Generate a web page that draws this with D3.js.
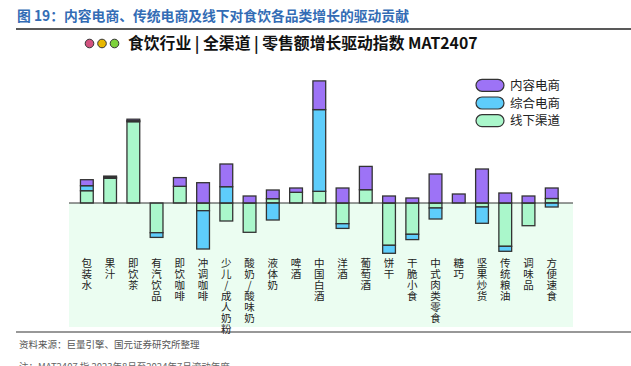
<!DOCTYPE html>
<html>
<head>
<meta charset="utf-8">
<script src="https://cdn.jsdelivr.net/npm/d3@7"></script>
<style>
  body { margin: 0; background: #fff; }
  svg { display: block; font-family: "Noto Sans CJK SC", sans-serif; }
</style>
</head>
<body>
<div id="chart"></div>
<script>
const w = 631
const h = 366
const purple = '#9d73f6'
const blue = '#5ecdfb'
const green = '#aaf7cb'

const categories = ['包装水', '果汁', '即饮茶', '有汽饮品', '即饮咖啡', '冲调咖啡', '少儿/成人奶粉', '酸奶/酸味奶', '液体奶', '啤酒', '中国白酒',
    '洋酒', '葡萄酒', '饼干', '干脆小食', '中式肉类零食', '糖巧', '坚果炒货', '传统粮油', '调味品', '方便速食']
const seriesNames = ['线下渠道', '综合电商', '内容电商']
const offline = [12.3, 24.7, 81.3, -29.7, 16.7, -7.7, -18, -29.3, 4.3, 10.7, 11.7, -20.7, 13.3, -42.3, -31.3, -5, 0, -4, -43.3, -22.7, 4.5]
const ecom = [5, 1, 1, -4.7, 0, -38.3, 16.3, 0, -17, 0, 81.7, -4.7, 0, -8, -5.3, -11, 0, -16.3, -5, 0, -4]
const content = [6, 1.2, 1.5, 0, 8.7, 20.3, 22.7, 7, 8.7, 4.3, 28.7, 15, 23.3, 7, 5, 29, 9, 34, 10, 7, 10.5]
const legendNames = ['内容电商', '综合电商', '线下渠道']

const rows = categories.map((c, i) => ({cat: c, '线下渠道': offline[i], '综合电商': ecom[i], '内容电商': content[i]}))
const colorOf = {'内容电商': purple, '综合电商': blue, '线下渠道': green}

const svg = d3.select('#chart')
    .append('svg')
    .attr('width', w)
    .attr('height', h)

// title
svg.append('text')
    .attr('x', 17)
    .attr('y', 21)
    .attr('fill', '#336cb5')
    .attr('font-size', 13.8)
    .attr('font-weight', 'bold')
    .text('图 19：内容电商、传统电商及线下对食饮各品类增长的驱动贡献')

svg.append('line')
    .attr('x1', 16).attr('x2', w)
    .attr('y1', 29).attr('y2', 29)
    .attr('stroke', '#222')
    .attr('stroke-width', 1.5)

// subtitle dots + text
svg.selectAll('circle.dot')
    .data(['#d2527f', '#e8b800', '#7dd23c'])
    .enter()
    .append('circle')
    .attr('class', 'dot')
    .attr('cx', (d, i) => 89.5 + i * 12.5)
    .attr('cy', 43.5)
    .attr('r', 4.3)
    .attr('fill', d => d)
    .attr('stroke', '#333')
    .attr('stroke-width', 1)

svg.append('text')
    .attr('x', 128)
    .attr('y', 49)
    .attr('font-size', 15.8)
    .attr('font-weight', 'bold')
    .attr('fill', '#111')
    .text('食饮行业 | 全渠道 | 零售额增长驱动指数 MAT2407')

const xScale = d3.scaleBand()
    .domain(categories)
    .range([70, 568.6])
    .padding(0.45)

const yScale = d3.scaleLinear()
    .domain([-50, 125])
    .range([253, 78])

// light green background below zero
svg.append('rect')
    .attr('x', 69)
    .attr('y', yScale(0))
    .attr('width', 504)
    .attr('height', 327 - yScale(0))
    .attr('fill', '#ebfdf1')

const stack = d3.stack()
    .keys(seriesNames)
    .offset(d3.stackOffsetDiverging)

const layers = stack(rows)

svg.append('g')
    .selectAll('g')
    .data(layers)
    .enter()
    .append('g')
    .attr('fill', d => colorOf[d.key])
    .selectAll('rect')
    .data(d => d.filter(s => s[1] !== s[0]))
    .enter()
    .append('rect')
    .attr('x', d => xScale(d.data.cat))
    .attr('y', d => yScale(Math.max(d[0], d[1])))
    .attr('width', xScale.bandwidth())
    .attr('height', d => Math.abs(yScale(d[0]) - yScale(d[1])))
    .attr('stroke', '#333')
    .attr('stroke-width', 1.3)

// zero line
svg.append('line')
    .attr('x1', 69).attr('x2', 573)
    .attr('y1', yScale(0)).attr('y2', yScale(0))
    .attr('stroke', '#333')
    .attr('stroke-width', 1)

// vertical category labels, one character per line
const labels = svg.append('g')
    .selectAll('text')
    .data(categories)
    .enter()
    .append('text')
    .attr('font-size', 10.5)
    .attr('fill', '#222')
    .attr('text-anchor', 'middle')

labels.selectAll('tspan')
    .data(d => Array.from(d).map(ch => ({ch, cat: d})))
    .enter()
    .append('tspan')
    .attr('x', d => xScale(d.cat) + xScale.bandwidth() / 2)
    .attr('y', (d, i) => 267 + i * 11)
    .text(d => d.ch)

// legend
const legend = svg.append('g')
    .selectAll('g')
    .data(legendNames)
    .enter()
    .append('g')
    .attr('transform', (d, i) => `translate(476, ${85.3 + i * 17.7})`)

legend.append('rect')
    .attr('x', 0)
    .attr('y', -6)
    .attr('width', 28)
    .attr('height', 12)
    .attr('rx', 6)
    .attr('fill', d => colorOf[d])
    .attr('stroke', '#333')
    .attr('stroke-width', 1.2)

legend.append('text')
    .attr('x', 34)
    .attr('y', 4.5)
    .attr('font-size', 12.5)
    .attr('fill', '#222')
    .text(d => d)

// footer
svg.append('line')
    .attr('x1', 16).attr('x2', w)
    .attr('y1', 332).attr('y2', 332)
    .attr('stroke', '#333')
    .attr('stroke-width', 1.2)

svg.append('text')
    .attr('x', 19)
    .attr('y', 348)
    .attr('font-size', 9.5)
    .attr('fill', '#555')
    .text('资料来源：巨量引擎、国元证券研究所整理')

svg.append('text')
    .attr('x', 19)
    .attr('y', 370)
    .attr('font-size', 9.5)
    .attr('fill', '#666')
    .text('注：MAT2407 指 2023年8月至2024年7月滚动年度')
</script>
</body>
</html>
